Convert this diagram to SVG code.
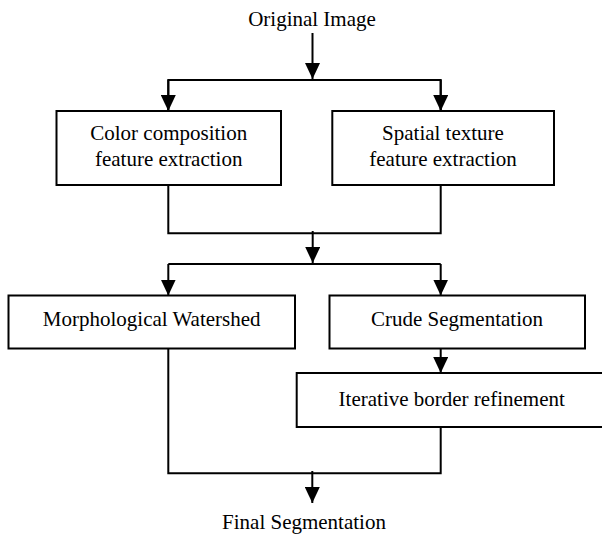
<svg xmlns="http://www.w3.org/2000/svg" width="602" height="536" viewBox="0 0 602 536">
<style>
  .box { fill: #ffffff; stroke: #000000; stroke-width: 2; }
  .lbl { font-family: "Liberation Serif", "Times New Roman", serif; font-size: 21px; fill: #000000; text-anchor: middle; }
  .wire { fill: none; stroke: #000000; stroke-width: 2; }
</style>
<defs>
  <marker id="arr" viewBox="0 0 16 15" refX="16" refY="7.5" markerWidth="16" markerHeight="15" markerUnits="userSpaceOnUse" orient="auto">
    <path d="M0,0 L16,7.5 L0,15 z" fill="#000000"/>
  </marker>
</defs>
<rect width="602" height="536" fill="#ffffff"/>
<g id="connectors">
  <line class="wire" x1="312.5" y1="33" x2="312.5" y2="79" marker-end="url(#arr)"/>
  <polyline class="wire" points="168.3,111 168.3,80 440.7,80 440.7,111" />
  <line class="wire" x1="168.3" y1="80" x2="168.3" y2="111" marker-end="url(#arr)"/>
  <line class="wire" x1="440.7" y1="80" x2="440.7" y2="111" marker-end="url(#arr)"/>
  <polyline class="wire" points="168.3,185 168.3,233.3 440.7,233.3 440.7,185"/>
  <line class="wire" x1="312.7" y1="231" x2="312.7" y2="263" marker-end="url(#arr)"/>
  <polyline class="wire" points="168.3,264 440.7,264"/>
  <line class="wire" x1="168.3" y1="264" x2="168.3" y2="295.5" marker-end="url(#arr)"/>
  <line class="wire" x1="440.7" y1="264" x2="440.7" y2="295.5" marker-end="url(#arr)"/>
  <line class="wire" x1="440.7" y1="348.5" x2="440.7" y2="373" marker-end="url(#arr)"/>
  <polyline class="wire" points="168.3,348.5 168.3,473.3 440.7,473.3 440.7,427"/>
  <line class="wire" x1="312.3" y1="471" x2="312.3" y2="503" marker-end="url(#arr)"/>
</g>
<g id="original-image">
  <text class="lbl" x="312" y="26">Original Image</text>
</g>
<g id="color-composition">
  <rect class="box" x="56.5" y="111" width="224.5" height="74"/>
  <text class="lbl" x="168.7" y="140">Color composition</text>
  <text class="lbl" x="168.7" y="166">feature extraction</text>
</g>
<g id="spatial-texture">
  <rect class="box" x="332.3" y="111" width="221.7" height="74"/>
  <text class="lbl" x="443" y="140">Spatial texture</text>
  <text class="lbl" x="443" y="166">feature extraction</text>
</g>
<g id="morphological-watershed">
  <rect class="box" x="8.5" y="295.5" width="286.5" height="53"/>
  <text class="lbl" x="151.7" y="326">Morphological Watershed</text>
</g>
<g id="crude-segmentation">
  <rect class="box" x="329.5" y="295.5" width="255.5" height="53"/>
  <text class="lbl" x="457" y="326">Crude Segmentation</text>
</g>
<g id="iterative-border-refinement">
  <rect class="box" x="296.7" y="373" width="320" height="54"/>
  <text class="lbl" x="451.7" y="406">Iterative border refinement</text>
</g>
<g id="final-segmentation">
  <text class="lbl" x="304" y="529">Final Segmentation</text>
</g>
</svg>
